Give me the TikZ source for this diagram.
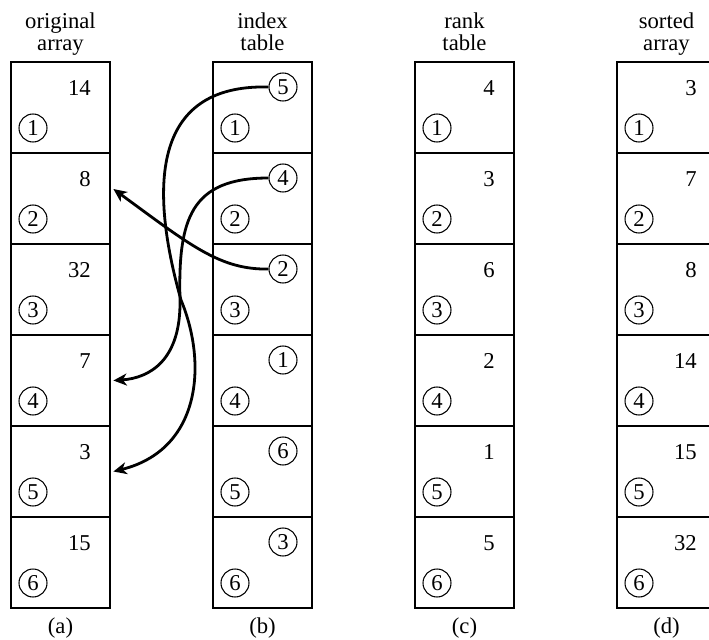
\documentclass[tikz,border=0pt]{standalone}
\usepackage{fontspec}
\setmainfont{Liberation Serif}
\usetikzlibrary{calc}
\usetikzlibrary{arrows.meta}

\begin{document}
\begin{tikzpicture} [
    x = 0.75pt, y = -0.75pt,
    font = \fontsize{17}{16}\selectfont,
    cell/.style = {draw, line width = 2.1pt, minimum width = 74.25pt, minimum height = 68.25pt, inner sep = 0pt},
    idx/.style = {draw, circle, line width = 0.8pt, minimum size = 21pt, inner sep = 0pt},
    val/.style = {anchor = east, inner sep = 0pt},
    head/.style = {align = center, anchor = north, inner sep = 0pt},
    ptr/.style = {line width = 2.1pt, -{Stealth[length = 10pt, width = 9pt, inset = 3pt]}}
]

\useasboundingbox (0,0) rectangle (709,639);

% headers and captions
\node (ha) at (60.5, 13) [head] {original\\array};
\node (hb) at (262.5, 13) [head] {index\\table};
\node (hc) at (464.5, 13) [head] {rank\\table};
\node (hd) at (666.5, 13) [head] {sorted\\array};
\node (la) at (60.5, 628) {(a)};
\node (lb) at (262.5, 628) {(b)};
\node (lc) at (464.5, 628) {(c)};
\node (ld) at (666.5, 628) {(d)};

% cells with their index circles
\foreach \col/\x in {a/60.5, b/262.5, c/464.5, d/666.5} {
    \foreach \i in {1,...,6} {
        \node (\col\i) at (\x, {107.5 + 91*(\i-1)}) [cell] {};
        \node (\col\i n) at ($(\col\i) + (-27.5, 20.5)$) [idx] {\i};
    }
}

% values
\foreach \v [count = \i] in {14, 8, 32, 7, 3, 15}
    \node (va\i) at ($(a\i) + (30.5, -19.5)$) [val] {\v};
\foreach \v [count = \i] in {4, 3, 6, 2, 1, 5}
    \node (vc\i) at ($(c\i) + (30.5, -19.5)$) [val] {\v};
\foreach \v [count = \i] in {3, 7, 8, 14, 15, 32}
    \node (vd\i) at ($(d\i) + (30.5, -19.5)$) [val] {\v};

% index table entries
\foreach \v [count = \i] in {5, 4, 2, 1, 6, 3}
    \node (p\i) at ($(b\i) + (20.5, -20.5)$) [idx] {\v};

% pointers into the original array
\coordinate (t2) at ($(a2.east) + (2, -9.5)$);
\coordinate (t4) at ($(a4.east) + (2, 0)$);
\coordinate (t5) at ($(a5.east) + (2, 0)$);
\draw [ptr] (p1.west) .. controls (150, 84) and (150, 190) .. (181, 300)
    .. controls (208, 365) and (200, 450) .. (t5);
\draw [ptr] (p2.west) .. controls (190, 178) and (178, 220) .. (180, 300)
    .. controls (181, 360) and (150, 378) .. (t4);
\draw [ptr] (p3.west) .. controls (220, 270) and (190, 245) .. (t2);

\end{tikzpicture}
\end{document}
